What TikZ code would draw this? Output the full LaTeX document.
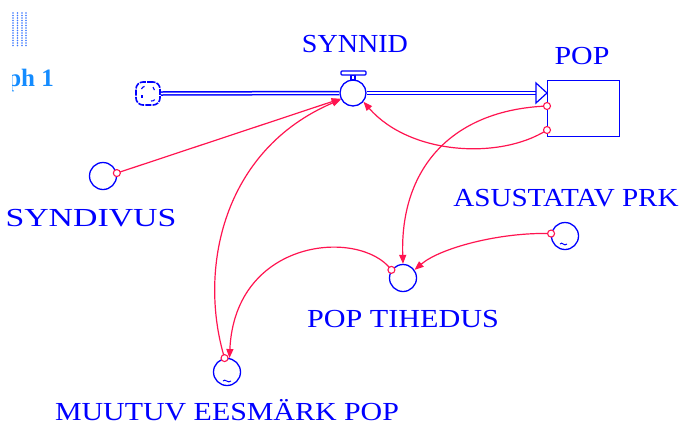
\documentclass[tikz,border=0pt]{standalone}
\usepackage{fontspec}
\setmainfont{Liberation Serif}
\usetikzlibrary{arrows.meta,calc}
\definecolor{vblue}{RGB}{0,0,255}
\definecolor{vred}{RGB}{255,20,80}
\definecolor{lblue}{RGB}{20,140,255}
\definecolor{dotblue}{RGB}{60,120,255}
\newcommand\widetxt[2][1.1]{\scalebox{#1}[1]{#2}}
\begin{document}
\begin{tikzpicture}[x=1pt,y=-1pt,
  lbl/.style={text=vblue,font=\fontsize{26}{30}\selectfont,inner sep=0pt,anchor=base},
  aux/.style={circle,draw=vblue,line width=1.3pt,minimum size=27pt,inner sep=0pt,fill=white},
  link/.style={draw=vred,line width=1.2pt,-{Triangle[length=9pt,width=7pt]}},
  src/.style={circle,draw=vred,line width=1.1pt,minimum size=7pt,inner sep=0pt,fill=white},
  pipe/.style={draw=vblue,double=white,line width=1.5pt,double distance=1.5pt},
  tilde/.style={draw=vblue,line width=1pt}
]
\useasboundingbox (0,0) rectangle (687,424);
\fill[white] (0,0) rectangle (687,424);

% top-left window remnants
\foreach \cx in {13,17.5,22,26}{
  \foreach \cy in {13,15.5,...,47}{
    \fill[dotblue] (\cx,\cy) circle (0.9);
  }
}
\begin{scope}
  \clip (12.5,0) rectangle (687,424);
  \node[anchor=base east,inner sep=0pt,text=lblue,font=\fontsize{25}{30}\selectfont\bfseries] (graph) at (54,86) {Graph 1};
\end{scope}

% stock
\node[draw=vblue,line width=1.3pt,fill=white,minimum width=72pt,minimum height=56pt,inner sep=0pt,anchor=north west] (pop) at (547,80) {};
% valve
\node[circle,draw=vblue,line width=1.3pt,minimum size=26pt,inner sep=0pt,fill=white] (valve) at (353,93) {};
% cloud
\node[draw=vblue,line width=1.6pt,dash pattern=on 6pt off 1.2pt,rounded corners=7pt,minimum width=24pt,minimum height=23pt,inner sep=0pt,fill=white] (cloud) at (148,93.5) {};
\draw[vblue,line width=1.1pt] (141.5,89) arc (200:260:4);
\draw[vblue,line width=1.1pt] (153,87) arc (-60:10:3);
\draw[vblue,line width=1.1pt] (142,98) arc (150:210:3);
\draw[vblue,line width=1.1pt] (151,101) arc (100:40:4);

% auxiliaries
\node[aux] (syndivus) at (103,176) {};
\node[aux] (tihedus) at (403,278) {};
\node[aux] (asust) at (565,236) {};
\node[aux] (muutuv) at (227,372) {};
\draw[tilde] (560,244) .. controls (562,241) and (564,247) .. (567,244);
\draw[tilde] (223,381) .. controls (225,378) and (228,384) .. (231,381);

% flow pipe
\coordinate (tip) at (pop.west |- valve.center);
\coordinate (ahead) at ($(tip)+(-11,0)$);
\draw[pipe] (cloud.east) -- (valve.west);
\draw[pipe] (valve.east) -- (ahead);
\draw[vblue,line width=1.2pt,fill=white,line join=miter] ($(ahead)+(0,-10)$) -- (tip) -- ($(ahead)+(0,10)$) -- cycle;
% valve handle
\draw[vblue,line width=1.1pt,fill=white] (351,75) rectangle (355,80);
\draw[vblue,line width=1.1pt,fill=white,rounded corners=1pt] (341,71) rectangle (366,75);

% link start points
\coordinate (p1) at (547,106);
\coordinate (p2) at (547,130);

% links
\draw[link] (syndivus.12) -- (valve.205);
\draw[link] (muutuv.100) .. controls (198,270) and (222,150) .. (valve.208);
\draw[link] (p2) .. controls (500,160) and (410,155) .. (valve.-40);
\draw[link] (p1) .. controls (450,110) and (400,170) .. (tihedus.north);
\draw[link] (asust.170) .. controls (500,232) and (440,248) .. (tihedus.35);
\draw[link] (tihedus.145) .. controls (360,228) and (235,238) .. (muutuv.80);

% link origin circles
\node[src] at (syndivus.12) {};
\node[src] at (muutuv.100) {};
\node[src] at (p1) {};
\node[src] at (p2) {};
\node[src] at (asust.170) {};
\node[src] at (tihedus.145) {};

% labels
\node[lbl] (l-synnid) at (355,52) {\widetxt[1.08]{SYNNID}};
\node[lbl] (l-pop) at (582,64) {\widetxt[1.15]{POP}};
\node[lbl] (l-syndivus) at (91,226) {\widetxt[1.3]{SYNDIVUS}};
\node[lbl] (l-asust) at (566,206) {\widetxt[1.12]{ASUSTATAV PRK}};
\node[lbl] (l-tihedus) at (403,327) {\widetxt[1.16]{POP TIHEDUS}};
\node[lbl] (l-muutuv) at (227,420) {\widetxt[1.15]{MUUTUV EESMÄRK POP}};
\end{tikzpicture}
\end{document}
